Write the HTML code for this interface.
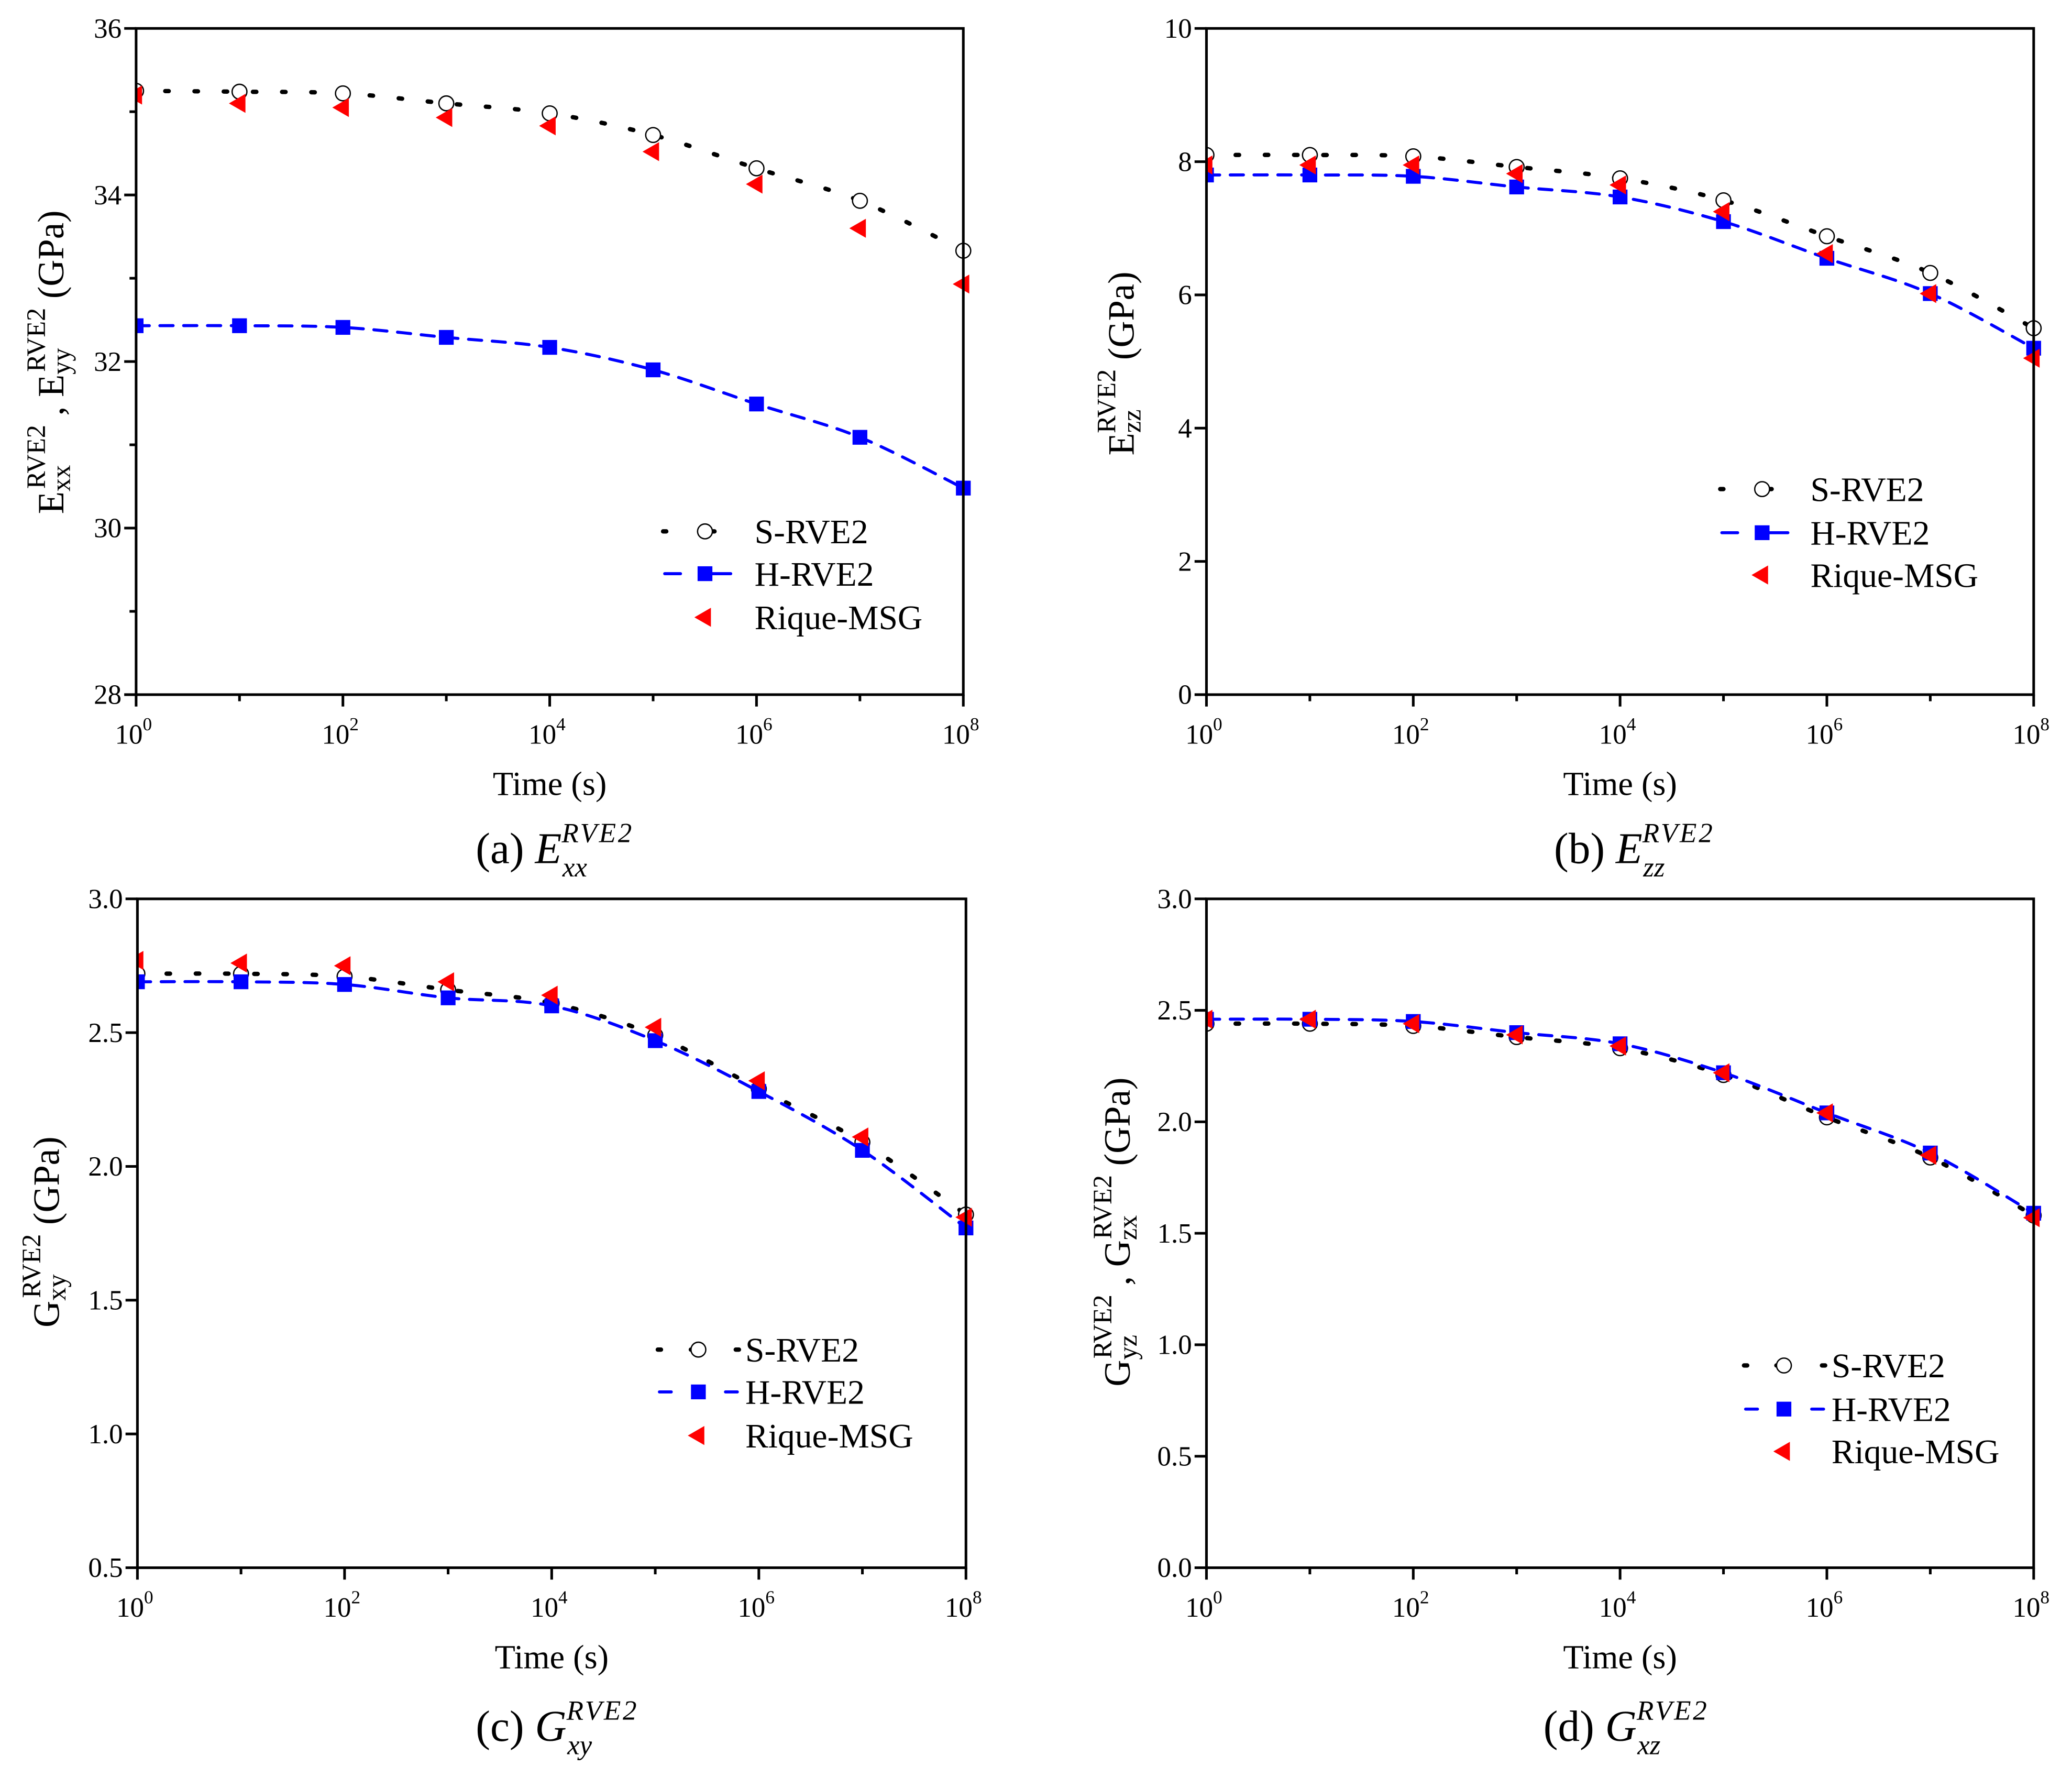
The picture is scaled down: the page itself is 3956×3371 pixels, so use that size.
<!DOCTYPE html>
<html><head><meta charset="utf-8">
<style>
html,body{margin:0;padding:0;background:#fff;}
svg{display:block;font-family:"Liberation Serif",serif;}
</style></head>
<body>
<svg id="fig" xmlns="http://www.w3.org/2000/svg" width="3956" height="3371" viewBox="0 0 1568 1336" preserveAspectRatio="none" font-family="Liberation Serif, serif">
<rect x="0" y="0" width="1568" height="1336" fill="#fff"/>
</svg>
<script>
// shared x categories (log10 of time)
const timeExps = [0,1,2,3,4,5,6,7,8];
const xTickExps = [0,2,4,6,8];

// panel (a) E_xx
const aTicks = [28,30,32,34,36];
const aMinor = [29,31,33,35];
const aS = [35.25,35.24,35.22,35.10,34.98,34.72,34.32,33.93,33.33];
const aH = [32.43,32.43,32.41,32.29,32.17,31.90,31.49,31.09,30.48];
const aR = [35.20,35.10,35.05,34.93,34.83,34.52,34.13,33.60,32.93];

// panel (b) E_zz
const bTicks = [0,2,4,6,8,10];
const bS = [8.10,8.10,8.08,7.92,7.75,7.42,6.88,6.33,5.50];
const bH = [7.80,7.80,7.78,7.62,7.47,7.10,6.55,6.02,5.20];
const bR = [7.95,7.95,7.95,7.82,7.65,7.25,6.62,6.02,5.05];

// panel (c) G_xy
const cTicks = [0.5,1.0,1.5,2.0,2.5,3.0];
const cS = [2.72,2.72,2.71,2.66,2.61,2.49,2.29,2.09,1.82];
const cH = [2.69,2.69,2.68,2.63,2.60,2.47,2.28,2.06,1.77];
const cR = [2.77,2.76,2.75,2.69,2.64,2.52,2.32,2.11,1.81];

// panel (d) G_xz
const dTicks = [0.0,0.5,1.0,1.5,2.0,2.5,3.0];
const dS = [2.44,2.44,2.43,2.38,2.33,2.21,2.02,1.84,1.58];
const dH = [2.46,2.46,2.45,2.40,2.35,2.22,2.04,1.86,1.59];
const dR = [2.46,2.46,2.44,2.39,2.34,2.22,2.04,1.85,1.57];

const NS = "http://www.w3.org/2000/svg";
const svg = document.getElementById('fig');
function el(tag, attrs, parent){
  const e = document.createElementNS(NS, tag);
  for (const k in attrs) e.setAttribute(k, attrs[k]);
  (parent||svg).appendChild(e);
  return e;
}
function smooth(pts){
  let d = "M"+pts[0][0]+","+pts[0][1];
  for (let i=0;i<pts.length-1;i++){
    const p0=pts[Math.max(0,i-1)], p1=pts[i], p2=pts[i+1], p3=pts[Math.min(pts.length-1,i+2)];
    const c1=[p1[0]+(p2[0]-p0[0])/6, p1[1]+(p2[1]-p0[1])/6];
    const c2=[p2[0]-(p3[0]-p1[0])/6, p2[1]-(p3[1]-p1[1])/6];
    d += " C"+c1[0]+","+c1[1]+" "+c2[0]+","+c2[1]+" "+p2[0]+","+p2[1];
  }
  return d;
}
function circleMark(g,x,y){
  const c = el('circle',{cx:x,cy:y,r:5.6,fill:'#fff',stroke:'#000','stroke-width':1},g);
  
  
}
function squareMark(g,x,y){
  const r = el('rect',{x:x-5.6,y:y-5.6,width:11.2,height:11.2,fill:'#0000ff'},g);
  
  
}
function triMark(g,x,y){
  const p = el('polygon',{points:(x-8)+","+y+" "+(x+4.5)+","+(y-7.2)+" "+(x+4.5)+","+(y+7.2),fill:'#ff0000'},g);
  
  
}
const DOT = {stroke:'#000','stroke-width':3.3,'stroke-dasharray':'2.6 19.5','stroke-linecap':'round',fill:'none'};
const DASH = {stroke:'#0000ff','stroke-width':2.3,'stroke-dasharray':'10 8','stroke-linecap':'round',fill:'none'};

function panel(cfg){
  const g = el('g',{});
  
  
  const {x0,x1,y0,y1,ymin,ymax} = cfg;
  const X = e => x0 + (e/8)*(x1-x0);
  const Y = v => y1 - (v-ymin)/(ymax-ymin)*(y1-y0);
  const cid = cfg.name+'-clip';
  const defs = el('defs',{},g);
  const cp = el('clipPath',{id:cid},defs);
  el('rect',{x:x0,y:y0-2,width:x1-x0+8,height:y1-y0+2},cp);
  const plot = el('g',{'clip-path':'url(#'+cid+')'},g);
  const sPts = timeExps.map((e,i)=>[X(e),Y(cfg.S[i])]);
  const hPts = timeExps.map((e,i)=>[X(e),Y(cfg.H[i])]);
  const rPts = timeExps.map((e,i)=>[X(e),Y(cfg.R[i])]);
  const sl = el('path',Object.assign({d:smooth(sPts)},DOT),plot);
  
  
  sPts.forEach(p=>circleMark(plot,p[0],p[1]));
  const hl = el('path',Object.assign({d:smooth(hPts)},DASH),plot);
  
  
  hPts.forEach(p=>squareMark(plot,p[0],p[1]));
  rPts.forEach(p=>triMark(plot,p[0],p[1]));
  const fr = el('rect',{x:x0,y:y0,width:x1-x0,height:y1-y0,fill:'none',stroke:'#000','stroke-width':2},g);
  
  
  cfg.ticks.forEach(v=>{
    el('line',{x1:x0-9,x2:x0,y1:Y(v),y2:Y(v),stroke:'#000','stroke-width':2},g);
    const t = el('text',{x:x0-11,y:Y(v)+7,'text-anchor':'end','font-size':21},g);
    t.textContent = cfg.fmt(v);
    
    
  });
  (cfg.minor||[]).forEach(v=>{
    el('line',{x1:x0-5,x2:x0,y1:Y(v),y2:Y(v),stroke:'#000','stroke-width':2},g);
  });
  timeExps.forEach(e=>{
    const major = xTickExps.indexOf(e)>=0;
    el('line',{x1:X(e),x2:X(e),y1:y1,y2:y1+(major?9:5),stroke:'#000','stroke-width':2},g);
  });
  xTickExps.forEach(e=>{
    const t = el('text',{x:X(e)-2,y:y1+37,'text-anchor':'middle','font-size':21},g);
    t.textContent = '10';
    const s = el('tspan',{dy:-10,'font-size':14},t);
    s.textContent = String(e);
    
    
  });
  const xt = el('text',{x:(x0+x1)/2,y:y1+76,'text-anchor':'middle','font-size':25.5},g);
  xt.textContent = 'Time (s)';
  
  
  const yg = el('g',{transform:'translate('+cfg.ytx+','+cfg.yty+') rotate(-90)'},g);
  const yt = el('text',{x:0,y:0,'text-anchor':'middle','font-size':28},yg);
  
  
  cfg.ytitle.forEach(part=>{
    if (typeof part === 'string'){
      const s = el('tspan',{},yt); s.textContent = part;
    } else {
      const s = el('tspan',part.a,yt); s.textContent = part.t;
    }
  });
  const L = cfg.leg;
  const lg = el('g',{},g);
  
  
  const names = ['S-RVE2','H-RVE2','Rique-MSG'];
  names.forEach((nm,i)=>{
    const y = L.ys[i];
    if (i===0){
      if (L.wide){
        [L.x1, L.xm-4.5, L.x2].forEach(xx=>el('line',{x1:xx-1.2,x2:xx+1.2,y1:y,y2:y,stroke:'#000','stroke-width':3.3,'stroke-linecap':'round'},lg));
      } else {
        [L.x1, L.xm+6].forEach(xx=>el('line',{x1:xx-1.2,x2:xx+1.2,y1:y,y2:y,stroke:'#000','stroke-width':3.3,'stroke-linecap':'round'},lg));
      }
      circleMark(lg,L.xm,y);
    } else if (i===1){
      if (L.wide){
        el('line',{x1:L.x1,x2:L.x1+9,y1:y,y2:y,stroke:'#00f','stroke-width':2.3,'stroke-linecap':'round'},lg);
        el('line',{x1:L.x2-9,x2:L.x2,y1:y,y2:y,stroke:'#00f','stroke-width':2.3,'stroke-linecap':'round'},lg);
      } else {
        el('line',{x1:L.x1,x2:L.x1+12,y1:y,y2:y,stroke:'#00f','stroke-width':2.3,'stroke-linecap':'round'},lg);
        el('line',{x1:L.xm,x2:L.x2,y1:y,y2:y,stroke:'#00f','stroke-width':2.3,'stroke-linecap':'round'},lg);
      }
      squareMark(lg,L.xm,y);
    } else {
      triMark(lg,L.xm,y);
    }
    const t = el('text',{x:L.tx,y:y+9,'font-size':26},lg);
    t.textContent = nm;
    
    
  });
  const cap = el('text',{x:cfg.capx,y:cfg.capy,'font-size':33},g);
  
  
  const c1 = el('tspan',{},cap); c1.textContent = cfg.capLetter+' ';
  const c2 = el('tspan',{'font-style':'italic'},cap); c2.textContent = cfg.capSym;
  const c3 = el('tspan',{'font-style':'italic','font-size':21,dy:-16,'letter-spacing':'1.5'},cap); c3.textContent = 'RVE2';
  const c4 = el('tspan',{'font-style':'italic','font-size':21,dx:-54,dy:26},cap); c4.textContent = cfg.capSub;
}

const one = v => String(v);
const dec = v => v.toFixed(1);

panel({name:'panel-a-exx',x0:103,x1:729,y0:21.5,y1:525.5,ymin:28,ymax:36,ticks:aTicks,minor:aMinor,fmt:one,
  S:aS,H:aH,R:aR,ytx:48,yty:274,
  ytitle:['E',{t:'xx',a:{'font-size':20,dy:5}},{t:'RVE2',a:{'font-size':20,dx:-18,dy:-19}},{t:' , E',a:{dy:14}},{t:'yy',a:{'font-size':20,dy:5}},{t:'RVE2',a:{'font-size':20,dx:-18,dy:-19}},{t:' (GPa)',a:{dy:14}}],
  leg:{x1:503,xm:533.5,x2:553,tx:571,ys:[402,434,467],wide:false},
  capLetter:'(a)',capSym:'E',capSub:'xx',capx:360,capy:653});
panel({name:'panel-b-ezz',x0:913,x1:1539,y0:21.5,y1:525.5,ymin:0,ymax:10,ticks:bTicks,fmt:one,
  S:bS,H:bH,R:bR,ytx:858,yty:275,
  ytitle:['E',{t:'zz',a:{'font-size':20,dy:5}},{t:'RVE2',a:{'font-size':20,dx:-18,dy:-19}},{t:' (GPa)',a:{dy:14}}],
  leg:{x1:1303,xm:1333.5,x2:1353,tx:1370,ys:[370,403,435],wide:false},
  capLetter:'(b)',capSym:'E',capSub:'zz',capx:1176,capy:653});
panel({name:'panel-c-gxy',x0:104,x1:731,y0:680,y1:1186,ymin:0.5,ymax:3.0,ticks:cTicks,fmt:dec,
  S:cS,H:cH,R:cR,ytx:44.5,yty:932,
  ytitle:['G',{t:'xy',a:{'font-size':20,dy:5}},{t:'RVE2',a:{'font-size':20,dx:-18,dy:-19}},{t:' (GPa)',a:{dy:14}}],
  leg:{x1:499,xm:528.5,x2:558,tx:564,ys:[1021,1053,1086],wide:true},
  capLetter:'(c)',capSym:'G',capSub:'xy',capx:360,capy:1317});
panel({name:'panel-d-gxz',x0:913,x1:1539,y0:680,y1:1186,ymin:0,ymax:3.0,ticks:dTicks,fmt:dec,
  S:dS,H:dH,R:dR,ytx:855,yty:932,
  ytitle:['G',{t:'yz',a:{'font-size':20,dy:5}},{t:'RVE2',a:{'font-size':20,dx:-18,dy:-19}},{t:' , G',a:{dy:14}},{t:'zx',a:{'font-size':20,dy:5}},{t:'RVE2',a:{'font-size':20,dx:-18,dy:-19}},{t:' (GPa)',a:{dy:14}}],
  leg:{x1:1321,xm:1350,x2:1380,tx:1386,ys:[1033,1066,1098],wide:true},
  capLetter:'(d)',capSym:'G',capSub:'xz',capx:1168,capy:1317});
</script>
</body></html>
